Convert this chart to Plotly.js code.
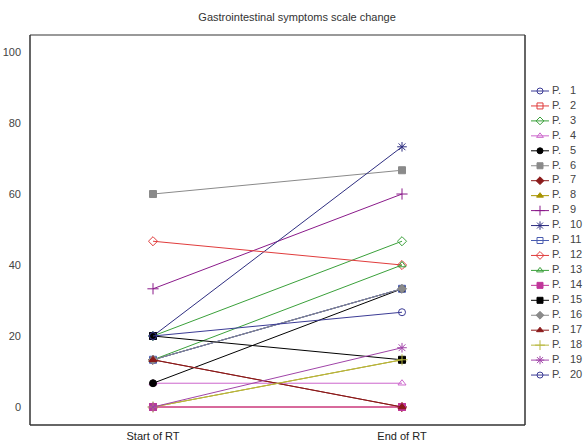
<!DOCTYPE html>
<html>
<head>
<meta charset="utf-8">
<script src="https://cdn.plot.ly/plotly-3.0.1.min.js"></script>
<style>html,body{margin:0;padding:0;background:#fff}#chart{width:586px;height:442px}</style>
</head>
<body>
<div id="chart"></div>
<script>
// ---- data ----
var timepoints = ["Start of RT", "End of RT"];
var patients = ["1","2","3","4","5","6","7","8","9","10","11","12","13","14","15","16","17","18","19","20"];
var startValues = [13.3, 0, 20, 6.7, 6.7, 60, 13.3, 0, 33.3, 20, 13.3, 46.7, 13.3, 0, 20, 13.3, 13.3, 0, 0, 20];
var endValues   = [33.3, 0, 46.7, 6.7, 33.3, 66.7, 0, 13.3, 60, 73.3, 33.3, 40, 40, 0, 13.3, 33.3, 0, 13.3, 16.7, 26.7];
var yTicks = [0, 20, 40, 60, 80, 100];

// ---- styles ----
var colors = ["#3b3b95","#e03c3c","#3aa03a","#cc66cc","#000000","#8a8a8a","#8b1a1a","#a89400","#8a1a8a","#2e2e80",
              "#4a5cb0","#e03c3c","#3aa03a","#c0369a","#000000","#8a8a8a","#8b1a1a","#b8b840","#a044a8","#3b3b95"];
var symbols = ["circle-open","square-open","diamond-open","triangle-up-open","circle","square","diamond","triangle-up","cross-thin-open","asterisk-open",
               "square-open","diamond-open","triangle-up-open","square","square","diamond","triangle-up","cross-thin-open","asterisk-open","circle-open"];
var sizes = [7,7,7,7,7,7,7,7,8,8,7,7,7,7,7,7,7,8,8,7];

var traces = [];
var xIdx = timepoints.map(function(_, i){ return i; });
patients.forEach(function(p, i){
  traces.push({
    x: xIdx, y: [startValues[i], endValues[i]],
    name: "P. " + p, mode: "lines+markers", showlegend: false,
    line: {color: colors[i], width: 1},
    marker: {symbol: symbols[i], size: sizes[i], color: colors[i], line: {color: colors[i], width: 1}},
    xaxis: "x", yaxis: "y", hoverinfo: "name+y"
  });
});

// ---- custom legend (separate axes) ----
patients.forEach(function(p, i){
  traces.push({
    x: [6, 24], y: [i + 1, i + 1], mode: "lines", showlegend: false, hoverinfo: "skip",
    line: {color: colors[i], width: 1}, xaxis: "x2", yaxis: "y2"
  });
  traces.push({
    x: [15], y: [i + 1], mode: "markers", showlegend: false, hoverinfo: "skip",
    marker: {symbol: symbols[i], size: sizes[i] - 1, color: colors[i], line: {color: colors[i], width: 1}},
    xaxis: "x2", yaxis: "y2"
  });
});
var legY = patients.map(function(_, i){ return i + 1; });
traces.push({
  x: patients.map(function(){ return 27; }), y: legY, mode: "text", text: patients.map(function(){ return "P."; }),
  textposition: "middle right", textfont: {family: "Liberation Sans, Arial, sans-serif", size: 11, color: "#444"},
  showlegend: false, hoverinfo: "skip", xaxis: "x2", yaxis: "y2"
});
traces.push({
  x: patients.map(function(){ return 45; }), y: legY, mode: "text", text: patients,
  textposition: "middle right", textfont: {family: "Liberation Sans, Arial, sans-serif", size: 11, color: "#444"},
  showlegend: false, hoverinfo: "skip", xaxis: "x2", yaxis: "y2"
});

var mainFrac = 495 / 556;
var layout = {
  width: 586, height: 442,
  margin: {l: 30, r: 0, t: 35, b: 17, pad: 0},
  paper_bgcolor: "#fff", plot_bgcolor: "#fff",
  font: {family: "Liberation Sans, Arial, sans-serif", size: 11, color: "#333"},
  title: {text: "Gastrointestinal symptoms scale change", x: 0.507, xref: "container", xanchor: "center",
          y: 1 - 17/442, yref: "container", yanchor: "middle",
          font: {family: "Liberation Sans, Arial, sans-serif", size: 11, color: "#333"}},
  showlegend: false,
  xaxis: {domain: [0, mainFrac], range: [-0.494, 1.494], tickmode: "array", tickvals: xIdx, ticktext: timepoints,
          showgrid: false, zeroline: false, showline: false, ticks: "", ticklabelstandoff: 3,
          tickfont: {size: 11, color: "#222"}},
  yaxis: {range: [-5.07, 104.8], tickmode: "array", tickvals: yTicks, ticktext: yTicks.map(String),
          showgrid: false, zeroline: false, showline: false, ticks: "", ticklabelstandoff: 8,
          tickfont: {size: 11, color: "#444"}},
  xaxis2: {domain: [mainFrac, 1], range: [0, 61], visible: false, anchor: "y2"},
  yaxis2: {range: [1 + 334/14.95, 1 - 56/14.95], visible: false, anchor: "x2"},
  shapes: [
    {type: "line", xref: "paper", yref: "paper", x0: 0, x1: mainFrac, y0: 1, y1: 1, line: {color: "#999", width: 2}},
    {type: "line", xref: "paper", yref: "paper", x0: 0, x1: mainFrac, y0: 0, y1: 0, line: {color: "#333", width: 1.5}},
    {type: "line", xref: "paper", yref: "paper", x0: 0, x1: 0, y0: 0, y1: 1, line: {color: "#333", width: 1.5}},
    {type: "line", xref: "paper", yref: "paper", x0: mainFrac, x1: mainFrac, y0: 0, y1: 1, line: {color: "#333", width: 1.5}}
  ]
};
Plotly.newPlot("chart", traces, layout, {displayModeBar: false, staticPlot: true});
</script>
</body>
</html>
